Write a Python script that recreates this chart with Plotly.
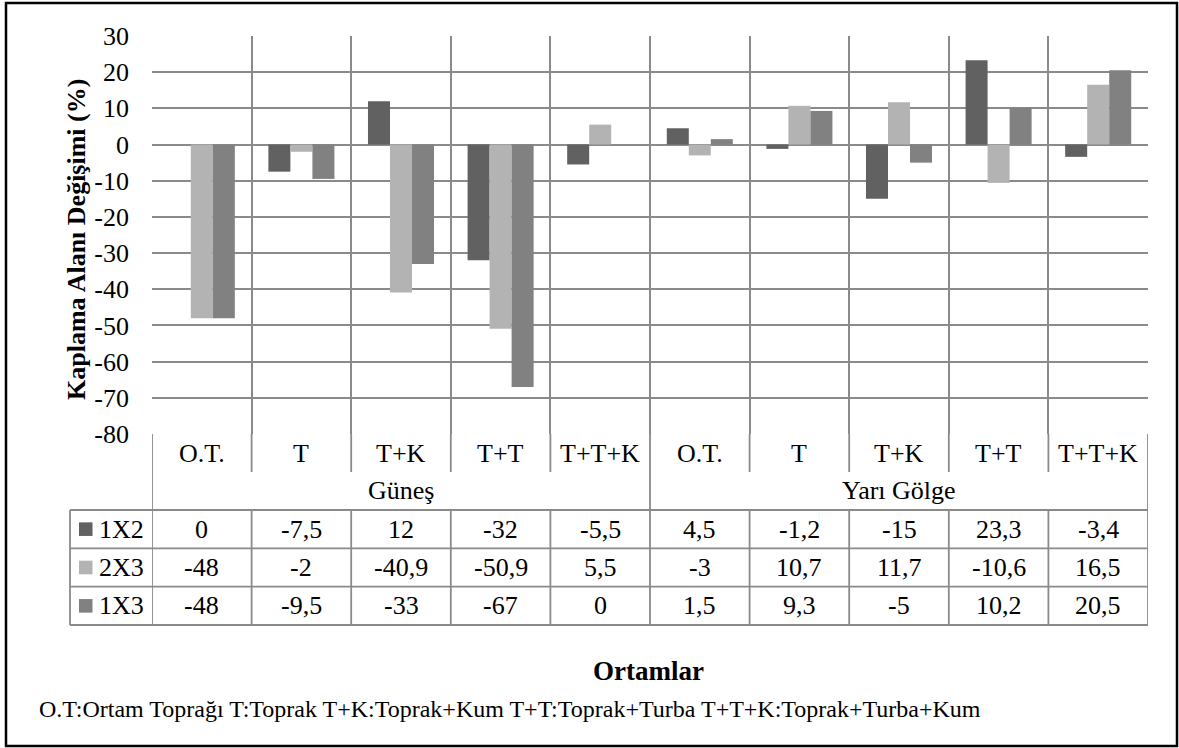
import plotly.graph_objects as go

# ---- data ----
categories = ["O.T.", "T", "T+K", "T+T", "T+T+K", "O.T.", "T", "T+K", "T+T", "T+T+K"]
groups = ["Güneş", "Yarı Gölge"]
series_names = ["1X2", "2X3", "1X3"]
s_1x2 = [0, -7.5, 12, -32, -5.5, 4.5, -1.2, -15, 23.3, -3.4]
s_2x3 = [-48, -2, -40.9, -50.9, 5.5, -3, 10.7, 11.7, -10.6, 16.5]
s_1x3 = [-48, -9.5, -33, -67, 0, 1.5, 9.3, -5, 10.2, 20.5]
y_ticks = [30, 20, 10, 0, -10, -20, -30, -40, -50, -60, -70, -80]
y_title = "Kaplama Alanı Değişimi (%)"
x_title = "Ortamlar"
footnote = "O.T:Ortam Toprağı T:Toprak T+K:Toprak+Kum T+T:Toprak+Turba T+T+K:Toprak+Turba+Kum"

colors = ["#616161", "#b3b3b3", "#818181"]
W, H = 1179, 748
FONT = "Liberation Serif"
GRID = "#8a8a8a"
GW = 1.8


def px(x):
    return x / W


def py(y):
    return 1 - y / H


def fmt(v):
    return ("%g" % v).replace(".", ",")


series = [s_1x2, s_2x3, s_1x3]
idx = list(range(len(categories)))

fig = go.Figure()
for name, vals, col in zip(series_names, series, colors):
    fig.add_trace(go.Bar(x=idx, y=vals, name=name, marker=dict(color=col, line=dict(width=0)),
                         showlegend=False, hoverinfo="skip"))

PLOT_L, PLOT_R, PLOT_T, PLOT_B = 152, 1148, 36, 434
ROW_CAT_B = 472
ROW_GRP_B = 510
ROWS = [510, 548.3, 586.7, 625]
LEFT_COL = 70

shapes = []
line = dict(color=GRID, width=GW)
for i in range(len(categories) + 1):
    xb = i - 0.5
    if i in (0, 5, len(categories)):
        y0, y1 = PLOT_B, ROWS[-1]
    else:
        y0, y1 = PLOT_B, ROW_CAT_B
    shapes.append(dict(type="line", xref="x", yref="paper", x0=xb, x1=xb, y0=py(y0), y1=py(y1), line=line))
    if i not in (0, 5, len(categories)):
        shapes.append(dict(type="line", xref="x", yref="paper", x0=xb, x1=xb,
                           y0=py(ROWS[0]), y1=py(ROWS[-1]), line=line))
for yy in ROWS:
    shapes.append(dict(type="line", xref="paper", yref="paper", x0=px(LEFT_COL), x1=px(PLOT_R),
                       y0=py(yy), y1=py(yy), line=line))
shapes.append(dict(type="line", xref="paper", yref="paper", x0=px(LEFT_COL), x1=px(LEFT_COL),
                   y0=py(ROWS[0]), y1=py(ROWS[-1]), line=line))
for k, col in enumerate(colors):
    yc = (ROWS[k] + ROWS[k + 1]) / 2
    shapes.append(dict(type="rect", xref="paper", yref="paper", x0=px(79), x1=px(92.5),
                       y0=py(yc - 6.8), y1=py(yc + 6.8), fillcolor=col, line=dict(width=0)))
shapes.append(dict(type="rect", xref="paper", yref="paper", x0=px(6), x1=px(1177), y0=py(746), y1=py(3),
                   line=dict(color="#000000", width=2.5), fillcolor="rgba(0,0,0,0)"))

annotations = []
TF = dict(family=FONT, size=26, color="#000000")
for i, c in enumerate(categories):
    annotations.append(dict(x=i, y=py((PLOT_B + ROW_CAT_B) / 2), xref="x", yref="paper", text=c,
                            showarrow=False, font=TF, xanchor="center", yanchor="middle"))
for g, gname in enumerate(groups):
    annotations.append(dict(x=g * 5 + 2, y=py((ROW_CAT_B + ROW_GRP_B) / 2), xref="x", yref="paper", text=gname,
                            showarrow=False, font=TF, xanchor="center", yanchor="middle"))
for k, (name, vals) in enumerate(zip(series_names, series)):
    yc = (ROWS[k] + ROWS[k + 1]) / 2
    annotations.append(dict(x=px(97), y=py(yc), xref="paper", yref="paper", text=name, showarrow=False,
                            font=TF, xanchor="left", yanchor="middle"))
    for i, v in enumerate(vals):
        annotations.append(dict(x=i, y=py(yc), xref="x", yref="paper", text=fmt(v), showarrow=False,
                                font=TF, xanchor="center", yanchor="middle"))
annotations.append(dict(x=px(77), y=py(240), xref="paper", yref="paper", text="<b>%s</b>" % y_title,
                        textangle=-90, showarrow=False, font=dict(family=FONT, size=26, color="#000"),
                        xanchor="center", yanchor="middle"))
annotations.append(dict(x=px(648), y=py(671), xref="paper", yref="paper", text="<b>%s</b>" % x_title,
                        showarrow=False, font=dict(family=FONT, size=27, color="#000"),
                        xanchor="center", yanchor="middle"))
annotations.append(dict(x=px(37), y=py(709), xref="paper", yref="paper", text=footnote,
                        showarrow=False, font=dict(family=FONT, size=24, color="#000"),
                        xanchor="left", yanchor="middle"))

fig.update_layout(
    width=W, height=H,
    margin=dict(l=0, r=0, t=0, b=0, autoexpand=False),
    paper_bgcolor="white", plot_bgcolor="white",
    font=dict(family=FONT),
    barmode="group", bargap=0.337, bargroupgap=0,
    xaxis=dict(domain=[px(PLOT_L), px(PLOT_R)], range=[-0.5, len(categories) - 0.5],
               tickvals=[i - 0.5 for i in range(len(categories) + 1)], showticklabels=False,
               showgrid=True, gridcolor=GRID, gridwidth=GW, zeroline=False, showline=False, ticks="",
               automargin=False),
    yaxis=dict(domain=[py(PLOT_B), py(PLOT_T)], range=[-80, 30], tickvals=y_ticks,
               ticktext=[str(t) for t in y_ticks], showgrid=True, gridcolor=GRID, gridwidth=GW,
               zeroline=True, zerolinecolor=GRID, zerolinewidth=GW, showline=False, ticks="",
               automargin=False,
               ticklabelstandoff=22, tickfont=dict(family=FONT, size=26, color="#000")),
    shapes=shapes, annotations=annotations,
)

fig.write_html("out.html", config={"displayModeBar": False},
               post_script="document.body.style.margin='0';document.body.style.overflow='hidden';")
